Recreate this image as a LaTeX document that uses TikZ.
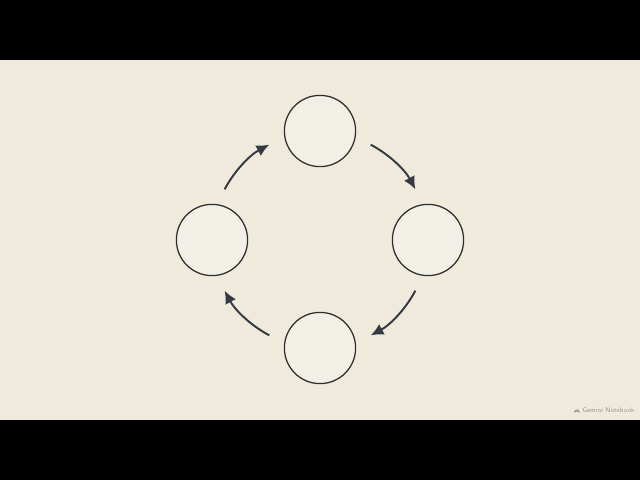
\documentclass[tikz,border=0pt]{standalone}
\usepackage{tikz}
\usetikzlibrary{arrows.meta}

\definecolor{paper}{HTML}{EFEADB}
\definecolor{disc}{HTML}{F2EFE7}
\definecolor{ink}{HTML}{2E2E2E}
\definecolor{arrowink}{HTML}{363A42}
\definecolor{brandgray}{HTML}{9A968C}

\begin{document}
\begin{tikzpicture}[x=0.025cm, y=0.025cm]
    \tikzstyle{stage}=[draw=ink, fill=disc, circle, line width=0.9pt, inner sep=0pt, minimum size=1.78cm]
    \tikzstyle{flow}=[draw=arrowink, line width=1.4pt, -{Latex[length=9pt, width=8.5pt]}]

    % Frame
    \fill[black] (0, 0) rectangle (640, 480);
    \fill[paper] (0, 60) rectangle (640, 420);
    \useasboundingbox (0, 0) rectangle (640, 480);

    % Cycle stages
    \coordinate (hub) at (320, 240);
    \node[stage] (top) at (320, 349) {};
    \node[stage] (right) at (428, 240) {};
    \node[stage] (bottom) at (320, 132) {};
    \node[stage] (left) at (212, 240) {};

    % Cycle arrows
    \draw[flow] ([shift={(62:108)}]hub) arc[start angle=62, end angle=28, radius=108];
    \draw[flow] ([shift={(-28:108)}]hub) arc[start angle=-28, end angle=-62, radius=108];
    \draw[flow] ([shift={(-118:108)}]hub) arc[start angle=-118, end angle=-152, radius=108];
    \draw[flow] ([shift={(152:108)}]hub) arc[start angle=152, end angle=118, radius=108];

    % Watermark
    \node[anchor=west, inner sep=0pt, text=brandgray, font=\sffamily\fontsize{4.8pt}{5pt}\selectfont] (brand) at (582, 70) {Gemini Notebook};
    \fill[brandgray] ([xshift=-1.5pt]brand.west) ++(-6, -2.5) arc[start angle=180, end angle=0, radius=3] -- ++(-1.5, 0) arc[start angle=0, end angle=180, radius=1.5] -- cycle;
\end{tikzpicture}
\end{document}
